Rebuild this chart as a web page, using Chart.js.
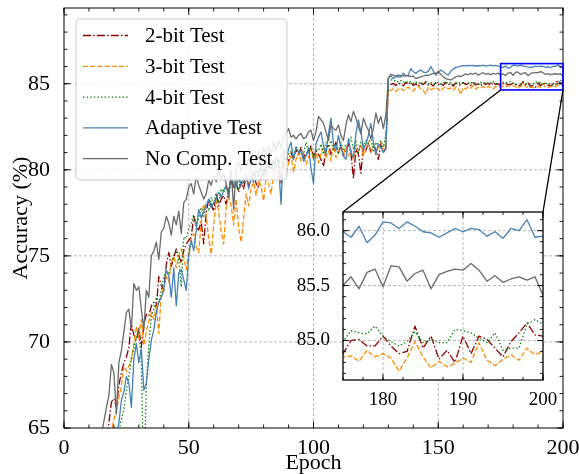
<!DOCTYPE html>
<html><head><meta charset="utf-8">
<script src="https://cdn.jsdelivr.net/npm/chart.js@4.4.1/dist/chart.umd.min.js"></script>
<style>
html,body{margin:0;padding:0;overflow:hidden;background:#fff;}
#wrap{position:relative;width:579px;height:480px;}
canvas{position:absolute;left:0;top:0;display:block;}
#inset{pointer-events:none;}
</style></head><body>
<div id="wrap"><canvas id="main" width="579" height="480"></canvas><canvas id="inset" width="579" height="480"></canvas></div>
<script>
// ---------- DATA ----------
const epochs = []; for (let e = 1; e <= 200; e++) epochs.push(e);

const bit2 = [
30.0,38.0,44.0,48.0,51.0,53.5,55.5,57.0,58.5,59.6,
60.5,61.3,62.0,62.7,63.3,63.8,64.4,65.3,66.5,66.7,
66.2,67.5,68.2,68.8,69.1,69.7,71.1,70.4,70.1,70.8,
69.7,71.0,71.6,71.5,72.1,72.3,72.0,73.8,73.3,73.0,
74.5,75.2,74.4,74.9,75.4,75.0,74.6,75.3,75.7,75.9,
76.1,77.3,76.7,76.5,77.0,75.7,77.5,78.3,78.0,77.6,
78.6,77.9,78.3,78.5,78.0,78.8,79.4,78.9,79.2,78.7,
79.3,78.9,79.6,79.1,79.4,79.8,79.2,79.0,79.6,80.1,
79.7,80.3,80.0,80.5,80.2,80.6,79.2,80.4,80.8,80.5,
81.0,80.6,81.2,80.8,81.3,80.7,81.0,80.9,81.4,80.8,
81.1,80.9,80.6,80.2,81.2,81.5,80.9,81.3,81.6,81.0,
81.4,80.8,81.2,81.5,81.0,79.5,81.2,80.9,79.8,81.4,
81.1,81.6,81.0,81.4,81.2,80.6,81.5,81.0,81.3,84.9,
84.95,85.02,84.9,85.05,84.97,84.88,85.08,84.95,85.1,84.9,
85.0,84.85,85.05,84.95,85.12,84.92,84.98,84.87,85.06,84.95,
85.02,84.9,85.08,84.94,85.0,84.86,85.05,84.97,84.92,85.07,
84.95,85.01,84.9,85.06,84.93,85.0,84.88,85.04,84.96,85.03,
84.9,85.08,84.95,85.0,84.88,85.0,85.01,84.95,84.95,85.04,
84.95,84.88,84.9,85.13,84.93,85.04,84.83,84.91,84.8,85.04,
84.88,85.04,85.01,84.93,84.85,84.99,85.07,85.16,85.05,85.04];

const bit3 = [
28.0,36.0,42.0,46.0,49.5,52.0,54.0,55.8,57.3,58.5,
59.5,60.4,61.2,62.0,62.6,63.2,63.8,64.3,64.8,65.5,
66.0,66.8,67.4,68.6,68.3,68.6,68.9,69.9,70.9,70.2,
71.3,69.8,70.6,71.2,71.7,71.3,72.1,70.5,72.8,73.2,
73.8,73.5,74.6,75.0,74.3,75.0,75.4,74.9,74.2,75.3,
76.0,76.3,75.5,75.2,77.0,78.0,77.3,76.0,75.1,76.8,
78.2,77.6,76.4,75.7,77.8,78.5,77.9,76.8,78.3,76.6,
75.8,77.2,78.6,77.9,78.9,79.3,78.5,79.4,79.0,78.2,
79.6,79.2,78.6,79.8,80.2,79.5,80.1,80.5,79.7,80.4,
80.8,79.9,80.6,81.0,80.5,80.9,80.3,80.7,81.2,80.6,
81.0,80.4,80.9,81.3,80.7,81.1,80.5,81.4,80.7,81.0,
81.5,80.9,81.3,80.8,81.2,80.6,81.4,81.0,81.5,80.8,
81.2,81.6,81.0,81.4,80.9,81.3,81.6,81.1,81.5,84.6,
84.62,84.7,84.55,84.68,84.75,84.6,84.72,84.8,84.66,84.58,
84.74,84.85,84.7,84.62,84.4,84.78,84.65,84.72,84.8,84.68,
84.56,84.74,84.82,84.7,84.76,84.63,84.8,84.72,84.38,84.78,
84.7,84.82,84.75,84.88,84.68,84.8,84.76,84.84,84.72,84.86,
84.78,84.7,84.83,84.8,84.85,84.86,84.81,84.91,84.85,84.88,
84.84,84.72,84.84,84.99,84.85,84.75,84.81,84.76,84.79,84.84,
84.8,84.98,84.82,84.77,84.83,84.87,84.82,84.93,84.87,84.9];

const bit4 = [
25.0,33.0,39.0,43.5,47.0,50.0,52.3,54.2,55.8,57.2,
58.4,59.4,60.3,61.0,61.7,62.3,62.8,63.3,63.7,64.1,
64.5,64.8,65.5,66.1,67.2,68.0,69.1,69.6,70.3,70.7,
68.8,61.5,67.6,69.8,71.5,71.9,72.6,72.3,73.0,73.8,
74.1,74.0,74.4,75.1,75.3,74.8,73.2,76.1,76.0,76.6,
76.9,77.4,76.8,77.2,77.8,77.3,78.0,77.6,78.4,78.0,
78.6,78.1,78.9,78.7,79.0,78.4,79.3,79.1,79.4,78.8,
79.7,79.2,79.6,79.5,80.1,79.4,80.0,79.9,80.3,79.6,
80.5,80.1,80.4,80.3,80.8,80.0,80.9,80.6,80.8,80.9,
81.1,80.7,81.4,81.0,81.2,80.9,81.6,81.0,81.3,80.6,
81.2,81.1,81.5,80.9,81.6,81.3,81.7,81.2,81.5,80.9,
81.6,81.1,81.5,81.4,81.9,81.2,81.7,81.0,81.6,81.4,
81.7,81.5,81.9,81.1,81.6,81.4,81.7,81.3,82.0,85.2,
85.25,85.15,85.2,85.1,85.18,85.08,85.15,85.05,85.12,85.02,
85.1,85.0,85.08,84.98,85.06,85.0,85.1,84.96,85.04,85.08,
84.98,85.05,85.12,85.0,85.06,84.95,85.03,85.1,85.0,85.07,
84.97,85.04,85.11,85.0,85.05,84.96,85.08,85.02,85.1,84.98,
85.05,85.12,85.03,85.0,84.99,85.09,85.07,85.06,85.13,85.04,
84.99,84.95,84.99,85.08,84.98,85.01,84.98,84.98,85.1,85.09,
85.07,85.02,84.98,85.07,84.91,84.93,84.93,85.15,85.19,85.15];

const adaptive = [
22.0,30.0,36.0,41.0,45.0,48.2,50.6,52.6,54.3,55.8,
57.1,58.2,59.2,60.1,60.9,61.6,62.3,62.9,63.5,64.0,
64.6,65.3,66.6,67.1,68.0,67.6,66.2,69.0,69.9,68.8,
69.6,67.2,67.6,69.0,70.1,70.7,71.7,72.3,72.6,73.0,
74.2,73.8,72.6,74.3,72.1,74.0,74.2,73.6,73.0,75.0,
75.9,75.3,76.5,77.7,77.2,77.6,77.9,78.3,77.8,78.1,
78.3,78.7,78.4,78.8,79.1,78.6,79.6,79.2,79.0,79.5,
79.1,79.4,79.8,78.9,79.5,79.3,79.9,79.6,80.2,79.8,
80.1,80.4,80.4,79.9,80.7,80.3,78.0,81.2,80.6,81.2,
81.6,80.6,81.3,81.0,81.1,80.5,80.8,81.3,80.1,79.2,
81.5,81.9,82.2,81.4,80.9,82.1,83.0,81.5,81.1,82.0,
81.3,80.8,80.6,81.8,81.0,80.7,82.1,82.9,82.2,81.2,
81.5,82.0,82.7,81.6,80.9,81.5,81.3,81.0,81.2,85.35,
85.45,85.3,85.42,85.4,85.38,85.62,85.45,85.5,85.88,85.7,
85.6,85.72,85.8,85.68,85.65,85.72,86.0,85.75,85.5,85.65,
85.8,85.7,85.58,85.5,85.72,85.85,85.95,85.98,86.02,86.05,
86.04,86.07,86.05,86.06,86.03,86.06,86.04,86.08,86.02,86.05,
86.08,86.04,86.06,86.02,85.99,85.94,86.04,85.89,85.96,86.08,
86.07,86.02,86.08,86.04,85.99,85.98,85.94,85.98,86.02,85.99,
86.02,86.01,85.95,85.99,85.93,86.02,86.0,86.10,85.94,85.95];

const noComp = [
35.0,42.0,47.0,50.5,53.0,55.2,57.0,58.6,60.0,61.1,
62.0,62.8,63.4,64.0,64.6,65.4,66.2,66.9,68.7,68.2,
65.8,68.8,69.5,70.6,71.7,71.9,70.7,73.4,73.0,73.2,
71.9,70.7,73.0,72.6,75.0,75.3,75.8,74.8,76.4,76.6,
77.3,76.9,76.2,77.3,76.8,77.6,76.3,78.1,78.3,79.0,
79.2,78.6,79.6,79.1,78.7,78.3,78.6,79.4,79.1,79.7,
79.3,79.9,79.5,79.8,79.2,78.4,80.0,77.7,80.2,80.5,
79.9,80.4,80.1,80.7,80.2,80.9,80.5,81.1,80.6,81.3,
80.9,81.4,80.8,81.6,81.1,81.7,81.3,81.9,82.1,82.4,
81.9,82.0,81.8,82.0,82.1,81.8,81.9,82.2,82.3,81.7,
82.2,83.1,82.9,82.7,82.2,81.7,82.6,82.4,82.3,82.6,
82.0,81.7,82.6,83.2,82.8,83.4,83.0,82.5,82.1,83.0,
82.6,82.3,81.8,82.4,83.3,82.7,83.1,82.4,83.2,85.3,
85.55,85.5,85.45,85.5,85.47,85.44,85.48,85.45,85.42,85.46,
85.3,85.35,85.4,85.45,85.5,85.48,85.55,85.6,85.62,85.7,
85.55,85.4,85.3,85.25,85.22,85.3,85.4,85.45,85.42,85.48,
85.58,85.52,85.6,85.55,85.62,85.5,85.58,85.64,85.55,85.6,
85.52,85.6,85.56,85.62,85.5,85.58,85.47,85.62,85.65,85.49,
85.68,85.67,85.54,85.61,85.64,85.47,85.6,85.63,85.65,85.64,
85.7,85.64,85.54,85.59,85.53,85.56,85.58,85.55,85.58,85.41];

const seriesLabels = ['2-bit Test','3-bit Test','4-bit Test','Adaptive Test','No Comp. Test'];
const xTicks = [0, 50, 100, 150, 200];
const yTicks = [65, 70, 75, 80, 85];
const insetXTicks = [180, 190, 200];
const insetYTicks = [85.0, 85.5, 86.0];
const mainRange = {x: [0, 200], y: [65, 89.4]};
const zoomX = [175, 200];
const zoomY = [84.64, 86.17];

// ---------- STYLE ----------
const FONT = "'Liberation Serif','Times New Roman',serif";
Chart.defaults.font.family = FONT;
Chart.defaults.color = '#000';
const styles = [
  {color:'#8b0000', dash:[8,2.2,1.5,2.2]},
  {color:'#ff8c00', dash:[5,2.2]},
  {color:'#008000', dash:[1.4,2.2]},
  {color:'#4682b4', dash:[]},
  {color:'#6a6a6a', dash:[]}
];
const allSeries = [bit2, bit3, bit4, adaptive, noComp];

function makeDatasets() {
  return allSeries.map((s, k) => ({
    label: seriesLabels[k],
    data: epochs.map((e, i) => ({x: e, y: s[i]})),
    borderColor: styles[k].color,
    borderDash: styles[k].dash,
    borderWidth: 1.3,
    borderJoinStyle: 'round',
    pointRadius: 0,
    fill: false,
    tension: 0,
    order: 5 - k
  }));
}

function decor(o) {
  const minorVals = (min, max, step) => {
    const out = []; const s = Math.ceil(min / step - 1e-6);
    for (let i = s; i * step <= max + 1e-6; i++) out.push(i * step);
    return out;
  };
  return {
    id: 'decor',
    beforeDraw(chart) {
      if (!o.fill) return;
      const a = chart.chartArea, c = chart.ctx;
      c.save(); c.fillStyle = '#fff'; c.fillRect(a.left, a.top, a.right - a.left, a.bottom - a.top); c.restore();
    },
    beforeDatasetsDraw(chart) {
      const {ctx: c, chartArea: a, scales: {x, y}} = chart;
      c.save(); c.strokeStyle = '#a6a6a6'; c.lineWidth = 0.8; c.setLineDash([3, 2]);
      c.beginPath();
      x.ticks.forEach(t => { if (t.value > x.min && t.value < x.max) { const p = x.getPixelForValue(t.value); c.moveTo(p, a.top); c.lineTo(p, a.bottom); } });
      y.ticks.forEach(t => { if (t.value > y.min && t.value < y.max) { const p = y.getPixelForValue(t.value); c.moveTo(a.left, p); c.lineTo(a.right, p); } });
      c.stroke(); c.restore();
    },
    afterDatasetsDraw(chart) {
      const {ctx: c, chartArea: a, scales: {x, y}} = chart;
      c.save(); c.strokeStyle = '#000'; c.lineWidth = 0.9; c.setLineDash([]);
      c.beginPath();
      const vx = (v, len) => { const p = x.getPixelForValue(v); c.moveTo(p, a.bottom); c.lineTo(p, a.bottom - len); c.moveTo(p, a.top); c.lineTo(p, a.top + len); };
      const vy = (v, len) => { const p = y.getPixelForValue(v); c.moveTo(a.left, p); c.lineTo(a.left + len, p); c.moveTo(a.right, p); c.lineTo(a.right - len, p); };
      minorVals(x.min, x.max, o.xMinor).forEach(v => vx(v, o.minorLen));
      minorVals(y.min, y.max, o.yMinor).forEach(v => vy(v, o.minorLen));
      x.ticks.forEach(t => vx(t.value, o.majorLen));
      y.ticks.forEach(t => vy(t.value, o.majorLen));
      c.stroke();
      c.lineWidth = o.frameW;
      c.strokeRect(a.left, a.top, a.right - a.left, a.bottom - a.top);
      c.restore();
    }
  };
}

const zoomRectPlugin = {
  id: 'zoomRect',
  afterDatasetsDraw(chart) {
    const {ctx: c, scales: {x, y}} = chart;
    const x0 = x.getPixelForValue(zoomX[0]), x1 = x.getPixelForValue(zoomX[1]);
    const y0 = y.getPixelForValue(zoomY[1]), y1 = y.getPixelForValue(zoomY[0]);
    c.save(); c.strokeStyle = '#0000ff'; c.lineWidth = 1.6;
    c.strokeRect(x0, y0, x1 - x0, y1 - y0); c.restore();
  }
};

const legendPlugin = {
  id: 'mplLegend',
  afterDraw(chart) {
    const c = chart.ctx;
    const bx = 76, by = 19, bw = 211, bh = 161, r = 4;
    c.save();
    c.beginPath();
    c.moveTo(bx + r, by); c.lineTo(bx + bw - r, by); c.arcTo(bx + bw, by, bx + bw, by + r, r);
    c.lineTo(bx + bw, by + bh - r); c.arcTo(bx + bw, by + bh, bx + bw - r, by + bh, r);
    c.lineTo(bx + r, by + bh); c.arcTo(bx, by + bh, bx, by + bh - r, r);
    c.lineTo(bx, by + r); c.arcTo(bx, by, bx + r, by, r); c.closePath();
    c.fillStyle = 'rgba(255,255,255,0.85)'; c.fill();
    c.strokeStyle = '#cccccc'; c.lineWidth = 1; c.stroke();
    c.font = '21px ' + FONT; c.fillStyle = '#000'; c.textBaseline = 'middle'; c.textAlign = 'left';
    chart.data.datasets.forEach((d, i) => {
      const yy = 35.5 + i * 30.8;
      c.beginPath(); c.strokeStyle = d.borderColor; c.lineWidth = d.borderWidth; c.setLineDash(d.borderDash);
      c.moveTo(83, yy); c.lineTo(128, yy); c.stroke();
      c.setLineDash([]);
      c.fillText(d.label, 145, yy + 1);
    });
    c.restore();
  }
};

const tickFont = {family: FONT, size: 22, lineHeight: 1.15};
const mainChart = new Chart(document.getElementById('main'), {
  type: 'line',
  data: {datasets: makeDatasets()},
  options: {
    responsive: false, animation: false, events: [],
    layout: {padding: {left: 0, right: 16, top: 8, bottom: 0}},
    plugins: {legend: {display: false}, tooltip: {enabled: false}},
    scales: {
      x: {
        type: 'linear', min: mainRange.x[0], max: mainRange.x[1],
        grid: {display: false}, border: {display: false},
        afterBuildTicks: s => { s.ticks = xTicks.map(v => ({value: v})); },
        ticks: {font: tickFont, color: '#000', padding: 0, maxRotation: 0, autoSkip: false},
        title: {display: true, text: 'Epoch', color: '#000', font: {family: FONT, size: 22, lineHeight: 1.2}, padding: {top: 0, bottom: 4}},
        afterFit: s => { s.height = 52; s.paddingLeft = 0; s.paddingRight = 0; }
      },
      y: {
        type: 'linear', min: mainRange.y[0], max: mainRange.y[1],
        grid: {display: false}, border: {display: false},
        afterBuildTicks: s => { s.ticks = yTicks.map(v => ({value: v})); },
        ticks: {font: tickFont, color: '#000', padding: 6, autoSkip: false},
        title: {display: true, text: 'Accuracy (%)', color: '#000', font: {family: FONT, size: 22, lineHeight: 1.2}, padding: {top: 8.5, bottom: 0}},
        afterFit: s => { s.width = 64; s.paddingTop = 0; s.paddingBottom = 0; }
      }
    }
  },
  plugins: [decor({xMinor: 10, yMinor: 1, majorLen: 6.5, minorLen: 3.5, frameW: 1}), zoomRectPlugin, legendPlugin]
});

const connectorPlugin = {
  id: 'connector',
  beforeDraw(chart) {
    const mx = mainChart.scales.x, my = mainChart.scales.y, a = chart.chartArea, c = chart.ctx;
    const x0 = mx.getPixelForValue(zoomX[0]), x1 = mx.getPixelForValue(zoomX[1]), yb = my.getPixelForValue(zoomY[0]);
    c.save(); c.strokeStyle = '#000'; c.lineWidth = 1.3;
    c.beginPath(); c.moveTo(x0, yb); c.lineTo(a.left, a.top); c.moveTo(x1, yb); c.lineTo(a.right, a.top); c.stroke();
    c.restore();
  }
};

const insetFont = {family: FONT, size: 19, lineHeight: 1.15};
const insetChart = new Chart(document.getElementById('inset'), {
  type: 'line',
  data: {datasets: makeDatasets()},
  options: {
    responsive: false, animation: false, events: [],
    layout: {padding: {left: 290, right: 36, top: 212, bottom: 65}},
    plugins: {legend: {display: false}, tooltip: {enabled: false}},
    scales: {
      x: {
        type: 'linear', min: zoomX[0], max: zoomX[1],
        grid: {display: false}, border: {display: false},
        afterBuildTicks: s => { s.ticks = insetXTicks.map(v => ({value: v})); },
        ticks: {font: insetFont, color: '#000', padding: 1, maxRotation: 0, autoSkip: false},
        afterFit: s => { s.height = 35; s.paddingLeft = 0; s.paddingRight = 0; }
      },
      y: {
        type: 'linear', min: zoomY[0], max: zoomY[1],
        grid: {display: false}, border: {display: false},
        afterBuildTicks: s => { s.ticks = insetYTicks.map(v => ({value: v})); },
        ticks: {font: insetFont, color: '#000', padding: 5, autoSkip: false, callback: v => Number(v).toFixed(1)},
        afterFit: s => { s.width = 53; s.paddingTop = 0; s.paddingBottom = 0; }
      }
    }
  },
  plugins: [connectorPlugin, decor({xMinor: 2.5, yMinor: 0.1, majorLen: 6, minorLen: 3, frameW: 1.3, fill: true})]
});
</script></body></html>
